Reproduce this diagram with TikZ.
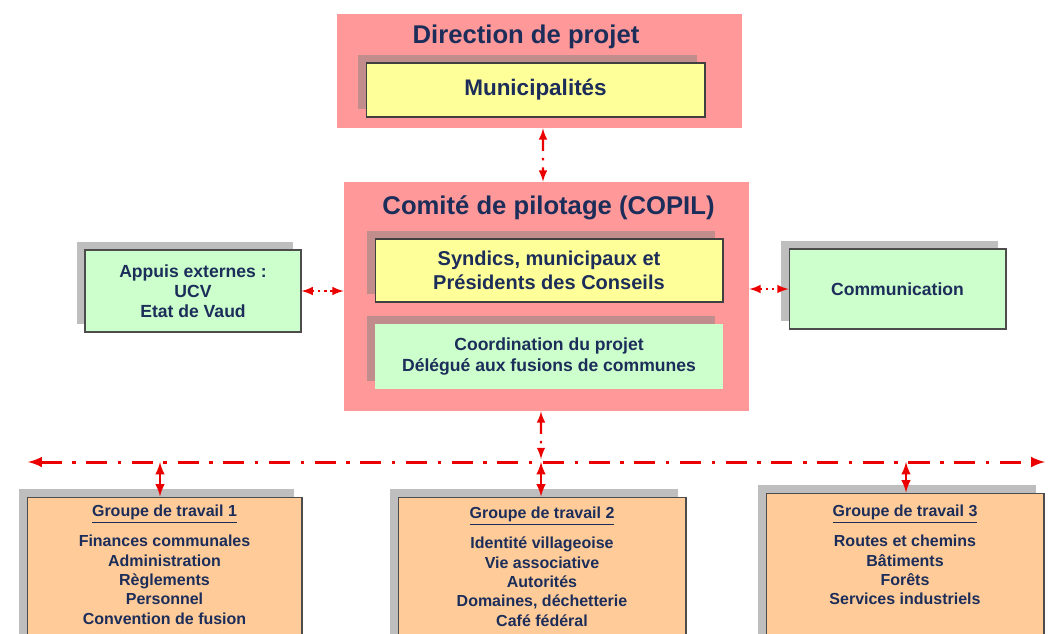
\documentclass[tikz,border=0pt]{standalone}
\usepackage{fontspec}
\setmainfont{Liberation Sans}
\usepackage{tikz}
\usetikzlibrary{arrows,shadows}

\definecolor{boxpink}{RGB}{255,153,153}
\definecolor{boxyellow}{RGB}{255,255,153}
\definecolor{boxgreen}{RGB}{204,255,204}
\definecolor{boxorange}{RGB}{255,204,153}
\definecolor{shadepink}{RGB}{192,140,140}
\definecolor{shadegray}{RGB}{190,190,190}
\definecolor{txtblue}{RGB}{28,45,90}
\definecolor{linkred}{RGB}{235,0,0}

\tikzset{
	pinkbox/.style={fill=boxpink, inner sep=0pt},
	titletext/.style={inner sep=0pt, font=\bfseries\fontsize{14.6pt}{17pt}\selectfont},
	inpink/.style={drop shadow={shadow xshift=-0.16cm, shadow yshift=0.16cm, fill=shadepink, opacity=1}},
	onwhite/.style={drop shadow={shadow xshift=-0.16cm, shadow yshift=0.16cm, fill=shadegray, opacity=1}},
	yellowbox/.style={inpink, fill=boxyellow, draw=black!75, line width=0.6pt, align=center},
	coordbox/.style={inpink, fill=boxgreen, align=center},
	sidebox/.style={onwhite, fill=boxgreen, draw=black!70, line width=0.6pt, align=center},
	groupbox/.style={onwhite, fill=boxorange, draw=black!70, line width=0.6pt},
	grouptext/.style={inner sep=0pt, align=center, anchor=north, font=\bfseries\fontsize{9.1pt}{11pt}\selectfont},
	buslink/.style={linkred, line width=1.7pt, dash pattern=on 12pt off 6pt on 2pt off 6pt},
	vlink/.style={linkred, line width=1.2pt, dash pattern=on 7pt off 4pt on 1.5pt off 4pt},
	dotlink/.style={linkred, line width=1.2pt, dash pattern=on 1.5pt off 2pt},
	grouplink/.style={linkred, line width=1.4pt}
}

\begin{document}
\begin{tikzpicture}[x=0.02cm, y=-0.02cm, text=txtblue, font=\bfseries]
	\useasboundingbox (0,0) rectangle (1053,633);

	\node[pinkbox, minimum width=8.1cm, minimum height=2.28cm] (dir) at (539.5,71) {};
	\node[titletext, anchor=base] (dirtitle) at (526,43) {Direction de projet};
	\node[yellowbox, minimum width=6.78cm, minimum height=1.08cm, font=\bfseries\fontsize{12.8pt}{15pt}\selectfont] (muni) at (535.5,90) {Municipalités};

	\node[pinkbox, minimum width=8.1cm, minimum height=4.58cm] (copil) at (546.5,296.5) {};
	\node[titletext, anchor=base] (copiltitle) at (548.5,214) {Comité de pilotage (COPIL)};
	\node[yellowbox, minimum width=6.96cm, minimum height=1.26cm, font=\bfseries\fontsize{11.4pt}{13.6pt}\selectfont] (syndics) at (549,270.5) {Syndics, municipaux et\\Présidents des Conseils};
	\node[coordbox, minimum width=6.96cm, minimum height=1.3cm, font=\bfseries\fontsize{10pt}{12pt}\selectfont] (coord) at (549,356.5) {Coordination du projet\\Délégué aux fusions de communes};

	\node[sidebox, minimum width=4.32cm, minimum height=1.64cm, font=\bfseries\fontsize{10pt}{11.3pt}\selectfont] (appuis) at (193,291) {Appuis externes :\\UCV\\Etat de Vaud};
	\node[sidebox, minimum width=4.34cm, minimum height=1.6cm, font=\bfseries\fontsize{10pt}{12pt}\selectfont] (comm) at (897.5,289) {Communication};

	\node[groupbox, minimum width=5.5cm, minimum height=2.96cm] (gt1) at (164.5,571) {};
	\node[groupbox, minimum width=5.76cm, minimum height=2.96cm] (gt2) at (542,571) {};
	\node[groupbox, minimum width=5.56cm, minimum height=3.04cm] (gt3) at (905,569) {};
	\node[grouptext] (gt1text) at (164.5,505) {\underline{Groupe de travail 1}\\[6pt]Finances communales\\Administration\\Règlements\\Personnel\\Convention de fusion};
	\node[grouptext] (gt2text) at (542,507) {\underline{Groupe de travail 2}\\[6pt]Identité villageoise\\Vie associative\\Autorités\\Domaines, déchetterie\\Café fédéral};
	\node[grouptext] (gt3text) at (905,505) {\underline{Groupe de travail 3}\\[6pt]Routes et chemins\\Bâtiments\\Forêts\\Services industriels};

	\coordinate (busL) at (28,462);
	\coordinate (busR) at (1045,462);
	\coordinate (bus1) at (160,462);
	\coordinate (bus2) at (541,462);
	\coordinate (bus3) at (906,462);

	\draw[vlink, latex-latex] ([xshift=0.07cm]dir.south) -- ([xshift=-0.07cm]copil.north);
	\draw[dotlink, latex-latex] (appuis.east) -- (appuis.east -| copil.west);
	\draw[dotlink, latex-latex] (copil.east |- comm.west) -- (comm.west);
	\draw[buslink, latex-latex] (busL) -- (busR);
	\draw[vlink, latex-latex] ([xshift=-0.11cm]copil.south) -- ([yshift=0.06cm]bus2);
	\draw[grouplink, latex-latex] (bus1) -- (bus1 |- gt1.north);
	\draw[grouplink, latex-latex] (bus2) -- (bus2 |- gt2.north);
	\draw[grouplink, latex-latex] (bus3) -- (bus3 |- gt3.north);
\end{tikzpicture}
\end{document}
